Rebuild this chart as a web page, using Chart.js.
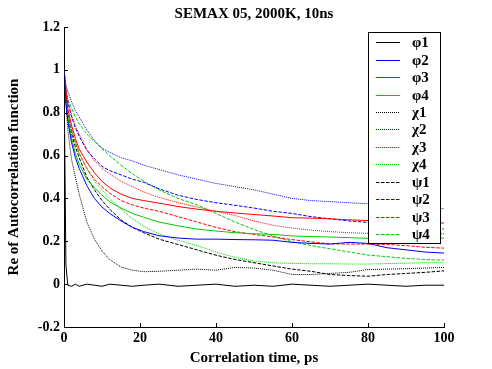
<!DOCTYPE html>
<html><head><meta charset="utf-8">
<script src="https://cdn.jsdelivr.net/npm/chart.js@4/dist/chart.umd.min.js"></script>
<style>html,body{margin:0;padding:0;background:#fff}#wrap{width:492px;height:369px}</style>
</head><body><div id="wrap"><canvas id="c" width="492" height="369"></canvas></div>
<script>
const time = [0,0.5,1,2,3,4,6,8,10,12,15,18,21,25,30,35,40,45,50,55,60,65,70,75,80,85,90,95,100];
const phi1 = [1,0.09,-0.005,-0.01,0,-0.01,0,-0.005,-0.01,0,-0.005,-0.01,-0.005,0,-0.01,-0.005,0,-0.01,-0.005,-0.01,0,-0.005,-0.01,-0.005,0,-0.005,-0.01,-0.005,-0.005];
const phi2 = [1,0.85,0.76,0.66,0.59,0.54,0.46,0.4,0.36,0.33,0.295,0.265,0.245,0.226,0.215,0.21,0.21,0.208,0.207,0.205,0.195,0.19,0.187,0.195,0.19,0.17,0.16,0.15,0.145];
const phi3 = [1,0.9,0.82,0.74,0.68,0.63,0.57,0.52,0.48,0.45,0.42,0.4,0.39,0.378,0.362,0.35,0.34,0.332,0.325,0.318,0.31,0.308,0.305,0.3,0.297,0.292,0.29,0.288,0.285];
const phi4 = [1,0.86,0.78,0.68,0.61,0.56,0.49,0.45,0.415,0.385,0.355,0.33,0.312,0.29,0.272,0.257,0.248,0.24,0.235,0.232,0.225,0.222,0.22,0.217,0.214,0.216,0.218,0.215,0.215];
const chi1 = [1,0.85,0.72,0.58,0.5,0.42,0.29,0.21,0.155,0.115,0.08,0.065,0.058,0.06,0.065,0.07,0.065,0.078,0.075,0.065,0.045,0.045,0.05,0.055,0.068,0.07,0.072,0.075,0.078];
const chi2 = [1,0.93,0.9,0.85,0.81,0.78,0.72,0.67,0.635,0.615,0.59,0.575,0.555,0.535,0.51,0.49,0.47,0.455,0.44,0.42,0.4,0.39,0.385,0.38,0.375,0.37,0.365,0.36,0.352];
const chi3 = [1,0.92,0.86,0.79,0.74,0.7,0.63,0.575,0.54,0.515,0.48,0.455,0.43,0.405,0.38,0.36,0.34,0.32,0.295,0.275,0.262,0.252,0.245,0.24,0.237,0.236,0.235,0.235,0.235];
const chi4 = [1,0.88,0.8,0.72,0.66,0.61,0.54,0.48,0.44,0.4,0.35,0.305,0.27,0.235,0.205,0.18,0.15,0.125,0.108,0.1,0.097,0.095,0.095,0.094,0.094,0.096,0.098,0.1,0.1];
const psi1 = [1,0.85,0.78,0.7,0.64,0.59,0.5,0.44,0.39,0.35,0.3,0.265,0.24,0.21,0.185,0.16,0.135,0.115,0.1,0.085,0.07,0.06,0.045,0.04,0.037,0.045,0.05,0.055,0.062];
const psi2 = [1,0.9,0.85,0.78,0.73,0.69,0.625,0.585,0.55,0.53,0.51,0.49,0.475,0.445,0.415,0.395,0.38,0.368,0.355,0.34,0.33,0.315,0.305,0.295,0.288,0.28,0.27,0.262,0.257];
const psi3 = [1,0.88,0.8,0.72,0.66,0.61,0.54,0.49,0.455,0.425,0.39,0.37,0.355,0.34,0.315,0.29,0.265,0.245,0.232,0.22,0.208,0.197,0.188,0.187,0.187,0.185,0.18,0.172,0.168];
const psi4 = [1,0.9,0.86,0.82,0.78,0.75,0.7,0.665,0.632,0.6,0.555,0.515,0.48,0.44,0.4,0.37,0.33,0.29,0.255,0.225,0.198,0.18,0.165,0.15,0.136,0.128,0.12,0.115,0.112];
const seriesLabels = ['φ1','φ2','φ3','φ4','χ1','χ2','χ3','χ4','ψ1','ψ2','ψ3','ψ4'];
const seriesValues = [phi1,phi2,phi3,phi4,chi1,chi2,chi3,chi4,psi1,psi2,psi3,psi4];
const xTicks = [0,20,40,60,80,100];
const yTicks = [-0.2,0,0.2,0.4,0.6,0.8,1,1.2];
const titleText = 'SEMAX 05, 2000K, 10ns';
const xTitle = 'Correlation time, ps';
const yTitle = 'Re of Autocorrelation function';

const colors = ['#000000','#0000ff','#ff0000','#00cc00'];
const dashes = [[], [1,1], [3.5,1.5]];
const FONT = '"Liberation Serif", "Times New Roman", serif';

const datasets = seriesValues.map((vals, i) => ({
  label: seriesLabels[i],
  data: vals.map((v, j) => ({x: time[j], y: v})),
  borderColor: colors[i % 4],
  borderDash: dashes[Math.floor(i / 4)],
  borderWidth: 1,
  pointRadius: 0,
  tension: 0,
  fill: false
}));

const extras = {
  id: 'extras',
  afterDraw(chart) {
    const ctx = chart.ctx;
    const xs = chart.scales.x, ys = chart.scales.y;
    ctx.save();
    ctx.strokeStyle = '#000';
    ctx.lineWidth = 1;
    ctx.beginPath();
    xTicks.forEach(t => {
      const px = Math.round(xs.getPixelForValue(t)) + 0.5;
      ctx.moveTo(px, ys.bottom); ctx.lineTo(px, ys.bottom - 4);
    });
    yTicks.forEach(t => {
      const py = Math.round(ys.getPixelForValue(t)) + 0.5;
      ctx.moveTo(xs.left, py); ctx.lineTo(xs.left + 4, py);
    });
    ctx.stroke();
    // title
    ctx.fillStyle = '#000';
    ctx.font = 'bold 15px ' + FONT;
    ctx.textAlign = 'center';
    ctx.textBaseline = 'middle';
    ctx.fillText(titleText, (xs.left + xs.right) / 2, 14);
    // legend
    const bx = 368.5, by = 32.5, bw = 72, bh = 211;
    ctx.fillStyle = '#fff';
    ctx.fillRect(bx, by, bw, bh);
    ctx.strokeStyle = '#000';
    ctx.strokeRect(bx, by, bw, bh);
    ctx.font = 'bold 15px ' + FONT;
    ctx.textAlign = 'left';
    chart.data.datasets.forEach((ds, i) => {
      const y = Math.round(42.3 + i * 17.43) + 0.5;
      ctx.lineWidth = 1;
      ctx.strokeStyle = colors[i % 4];
      ctx.setLineDash(dashes[Math.floor(i / 4)]);
      ctx.beginPath();
      ctx.moveTo(376, y); ctx.lineTo(400, y);
      ctx.stroke();
      ctx.setLineDash([]);
      ctx.fillStyle = '#000';
      ctx.fillText(ds.label, 412, y + 1);
    });
    ctx.restore();
  }
};

new Chart(document.getElementById('c'), {
  type: 'line',
  data: { datasets },
  options: {
    responsive: false,
    animation: false,
    devicePixelRatio: 1,
    layout: { padding: { top: 27, right: 48, bottom: 0, left: 0 } },
    plugins: { legend: { display: false }, title: { display: false }, tooltip: { enabled: false } },
    scales: {
      x: {
        type: 'linear', min: 0, max: 100,
        afterFit: s => { s.height = 42; },
        afterBuildTicks: s => { s.ticks = xTicks.map(v => ({value: v})); },
        ticks: { color: '#000', font: { family: FONT, size: 14, weight: 'bold' }, padding: 3, maxRotation: 0,
                 callback: v => String(v) },
        grid: { display: true, drawOnChartArea: false, drawTicks: false },
        border: { display: true, color: '#000', width: 1 },
        title: { display: true, text: xTitle, color: '#000', font: { family: FONT, size: 15, weight: 'bold' }, padding: { top: 0, bottom: 2 } }
      },
      y: {
        type: 'linear', min: -0.2, max: 1.2,
        afterFit: s => { s.width = 64; },
        afterBuildTicks: s => { s.ticks = yTicks.map(v => ({value: v})); },
        ticks: { color: '#000', font: { family: FONT, size: 14, weight: 'bold' }, padding: 4,
                 callback: v => String(Math.round(v * 10) / 10) },
        grid: { display: true, drawOnChartArea: false, drawTicks: false },
        border: { display: true, color: '#000', width: 1 },
        title: { display: true, text: yTitle, color: '#000', font: { family: FONT, size: 15, weight: 'bold' }, padding: { top: 5, bottom: 0 } }
      }
    }
  },
  plugins: [extras]
});
</script></body></html>
